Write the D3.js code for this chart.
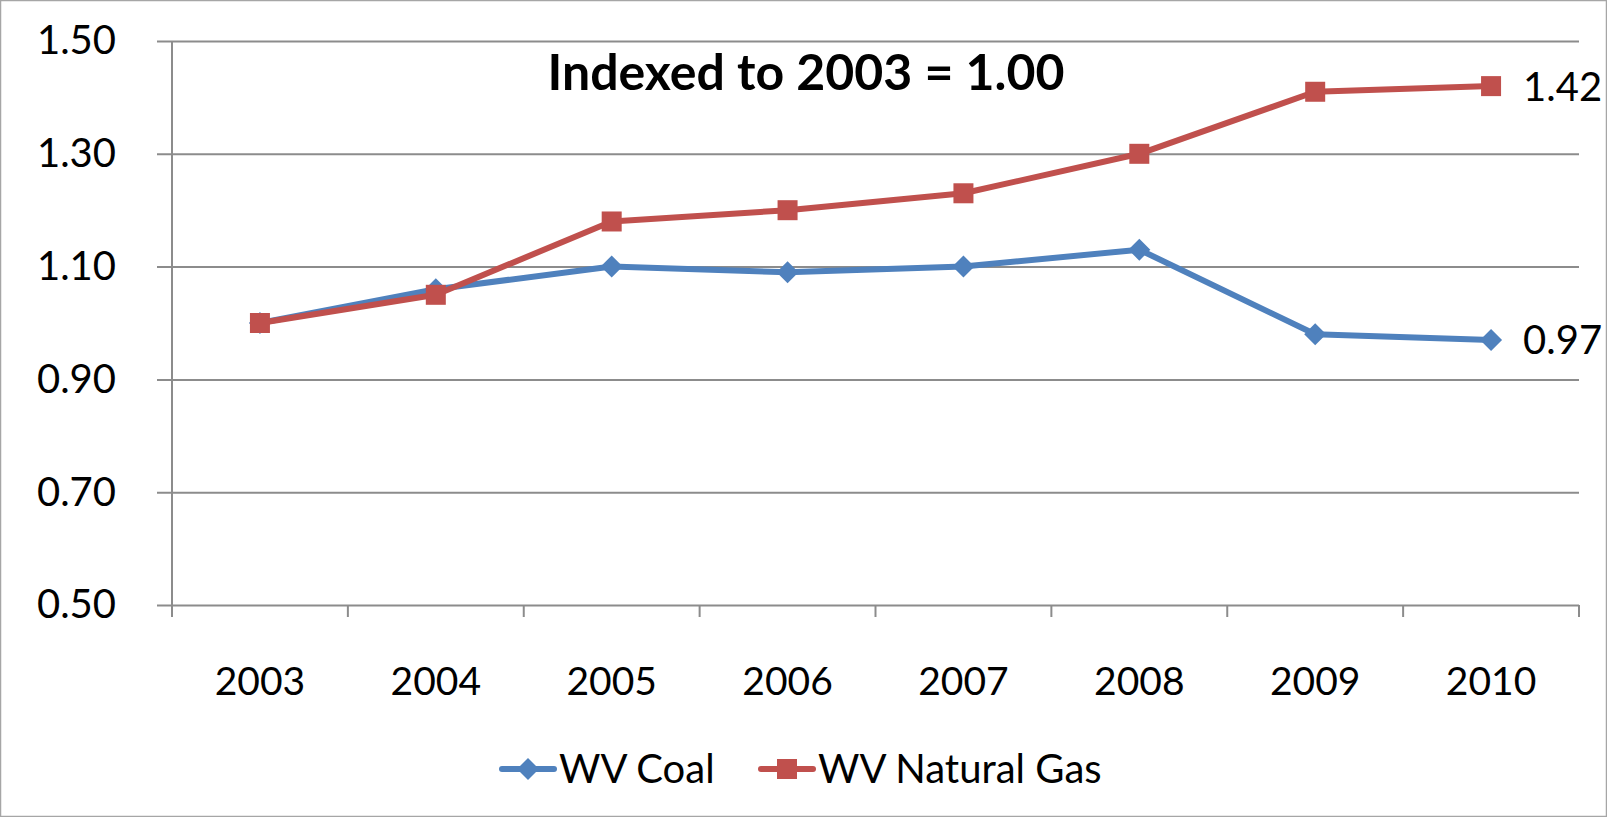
<!DOCTYPE html>
<html>
<head>
<meta charset="utf-8">
<script src="https://cdn.jsdelivr.net/npm/d3@7"></script>
<style>
  body { margin: 0; background: #fff; }
  text { font-family: Lato, "Noto Sans", sans-serif; fill: #000; }
</style>
</head>
<body>
<script>
var WIDTH = 1607;
var HEIGHT = 817;

// data
var years = ["2003", "2004", "2005", "2006", "2007", "2008", "2009", "2010"];
var coal = [1.00, 1.06, 1.10, 1.09, 1.10, 1.13, 0.98, 0.97];
var gas = [1.00, 1.05, 1.18, 1.20, 1.23, 1.30, 1.41, 1.42];
var yTicks = [0.50, 0.70, 0.90, 1.10, 1.30, 1.50];
var seriesNames = ["WV Coal", "WV Natural Gas"];
var endLabels = ["0.97", "1.42"];

var BLUE = "#4F81BD";
var RED = "#C0504D";
var GRID = "#8c8c8c";

var margin = {left: 172, right: 28, top: 41, bottom: 212};

var svg = d3.select("body")
  .append("svg")
  .attr("width", WIDTH)
  .attr("height", HEIGHT);

// outer chart border
svg.append("rect")
  .attr("x", 0.5).attr("y", 0.5)
  .attr("width", WIDTH - 1).attr("height", HEIGHT - 1)
  .attr("fill", "none")
  .attr("stroke", "#a6a6a6")
  .attr("stroke-width", 1.5);

var x = d3.scaleBand()
  .domain(years)
  .range([margin.left, WIDTH - margin.right]);

var y = d3.scaleLinear()
  .domain([0.5, 1.5])
  .range([HEIGHT - margin.bottom, margin.top]);

// gridlines + y axis
var yAxis = d3.axisLeft(y)
  .tickValues(yTicks)
  .tickSize(-(WIDTH - margin.right - margin.left) - 15)
  .tickPadding(41)
  .tickFormat(d3.format(".2f"));

var yg = svg.append("g")
  .attr("transform", "translate(" + (margin.left - 15) + ",0)")
  .call(yAxis);
yg.select(".domain").remove();
yg.selectAll(".tick line").attr("stroke", GRID).attr("stroke-width", 2);
yg.selectAll(".tick text")
  .attr("font-size", 40)
  .attr("font-family", "Lato, sans-serif")
  .attr("fill", "#000");

// vertical axis line
svg.append("line")
  .attr("x1", margin.left).attr("x2", margin.left)
  .attr("y1", y(1.5)).attr("y2", y(0.5) + 12)
  .attr("stroke", GRID).attr("stroke-width", 2);

// x axis ticks between categories
var bounds = years.map(function (d) { return x(d); }).concat([x.range()[1]]);
svg.selectAll(".xtick")
  .data(bounds)
  .enter()
  .append("line")
  .attr("x1", function (d) { return d; })
  .attr("x2", function (d) { return d; })
  .attr("y1", y(0.5))
  .attr("y2", y(0.5) + 12)
  .attr("stroke", GRID).attr("stroke-width", 2);

svg.selectAll(".xlabel")
  .data(years)
  .enter()
  .append("text")
  .attr("x", function (d) { return x(d) + x.bandwidth() / 2; })
  .attr("y", y(0.5) + 90)
  .attr("text-anchor", "middle")
  .attr("font-size", 39)
  .text(function (d) { return d; });

var line = d3.line()
  .x(function (d, i) { return x(years[i]) + x.bandwidth() / 2; })
  .y(function (d) { return y(d); });

function diamond(sel, cx, cy, s) {
  return sel.append("path")
    .attr("d", "M" + cx + "," + (cy - s) + "L" + (cx + s) + "," + cy + "L" + cx + "," + (cy + s) + "L" + (cx - s) + "," + cy + "Z")
    .attr("fill", BLUE);
}

// coal
svg.append("path")
  .datum(coal)
  .attr("d", line)
  .attr("fill", "none")
  .attr("stroke", BLUE)
  .attr("stroke-width", 6)
  .attr("stroke-linejoin", "round");

coal.forEach(function (v, i) {
  diamond(svg, x(years[i]) + x.bandwidth() / 2, y(v), 11);
});

// gas
svg.append("path")
  .datum(gas)
  .attr("d", line)
  .attr("fill", "none")
  .attr("stroke", RED)
  .attr("stroke-width", 6)
  .attr("stroke-linejoin", "round");

svg.selectAll(".sq")
  .data(gas)
  .enter()
  .append("rect")
  .attr("x", function (d, i) { return x(years[i]) + x.bandwidth() / 2 - 10; })
  .attr("y", function (d) { return y(d) - 10; })
  .attr("width", 20)
  .attr("height", 20)
  .attr("fill", RED);

// end labels
var last = years.length - 1;
[coal, gas].forEach(function (s, k) {
  svg.append("text")
    .attr("x", x(years[last]) + x.bandwidth() / 2 + 32)
    .attr("y", y(s[last]))
    .attr("dy", "0.36em")
    .attr("font-size", 40)
    .text(endLabels[k]);
});

// title
svg.append("text")
  .attr("x", 806)
  .attr("y", 90)
  .attr("text-anchor", "middle")
  .attr("font-size", 50)
  .attr("font-weight", "bold")
  .text("Indexed to 2003 = 1.00");

// legend
var legY = 769;
var leg = [{x: 502, color: BLUE, type: "d"}, {x: 761, color: RED, type: "s"}];
leg.forEach(function (l, i) {
  svg.append("line")
    .attr("x1", l.x).attr("x2", l.x + 52)
    .attr("y1", legY).attr("y2", legY)
    .attr("stroke", l.color).attr("stroke-width", 6)
    .attr("stroke-linecap", "round");
  if (l.type == "d") {
    diamond(svg, l.x + 26, legY, 11);
  } else {
    svg.append("rect")
      .attr("x", l.x + 16).attr("y", legY - 10)
      .attr("width", 20).attr("height", 20)
      .attr("fill", l.color);
  }
  svg.append("text")
    .attr("x", l.x + 57)
    .attr("y", legY)
    .attr("dy", "0.36em")
    .attr("font-size", 40)
    .text(seriesNames[i]);
});
</script>
</body>
</html>
